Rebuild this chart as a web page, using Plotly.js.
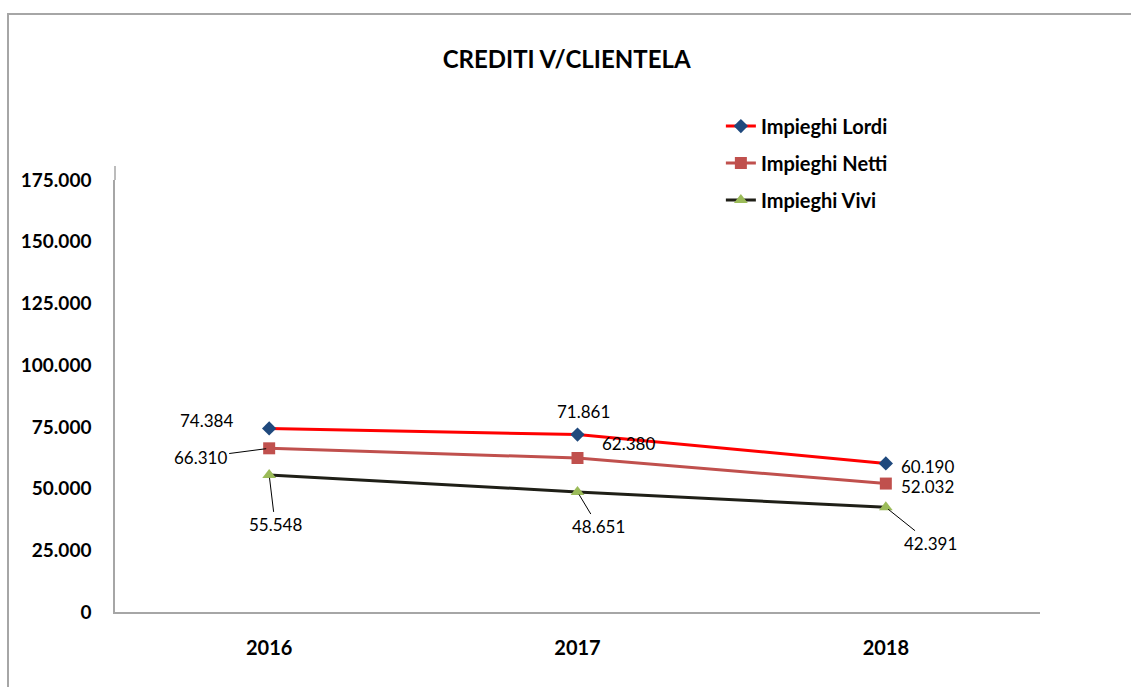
<!DOCTYPE html>
<html>
<head>
<meta charset="utf-8">
<script src="https://cdn.plot.ly/plotly-3.0.1.min.js"></script>
<style>
  html, body { margin: 0; padding: 0; background: #fff; }
  #chart { width: 1131px; height: 687px; }
</style>
</head>
<body>
<div id="chart"></div>
<script>
/* ==========================================
   DATA
========================================== */

const years = ["2016", "2017", "2018"];

const impieghiLordi = [74384, 71861, 60190];
const impieghiNetti = [66310, 62380, 52032];
const impieghiVivi = [55548, 48651, 42391];

const yTicks = [0, 25000, 50000, 75000, 100000, 125000, 150000, 175000];


/* ==========================================
   HELPERS
========================================== */

function fmt(v){

    return String(v).replace(/\B(?=(\d{3})+(?!\d))/g, ".");

}

const FONT = "Lato, 'Liberation Sans', sans-serif";

// i = category index, offsets in pixels
function plainLabel(i, y, xs, ys){

    return {
        x: i, y: y, xref: "x", yref: "y",
        text: fmt(y), showarrow: false,
        xshift: xs, yshift: ys,
        font: { family: FONT, size: 17, color: "#000" }
    };

}

function leaderLabel(i, y, ax, ay){

    return {
        x: i, y: y, xref: "x", yref: "y",
        text: fmt(y), showarrow: true,
        arrowhead: 0, arrowwidth: 1, arrowcolor: "#000",
        ax: ax, ay: ay, standoff: 3, startstandoff: 1,
        font: { family: FONT, size: 17, color: "#000" }
    };

}


/* ==========================================
   TRACES
========================================== */

const traces = [

    {
        x: years, y: impieghiLordi, name: "Impieghi Lordi",
        mode: "lines+markers", legendgroup: "a",
        line: { color: "#ff0000", width: 3 },
        marker: { symbol: "diamond", size: 11, color: "#1f497d" }
    },

    {
        x: years, y: impieghiNetti, name: "Impieghi Netti",
        mode: "lines+markers", legendgroup: "b",
        line: { color: "#c0504d", width: 3 },
        marker: { symbol: "square", size: 12, color: "#c0504d" }
    },

    {
        x: years, y: impieghiVivi, name: "Impieghi Vivi",
        mode: "lines+markers", legendgroup: "c",
        line: { color: "#1f1f17", width: 3 },
        marker: { symbol: "triangle-up", size: 12, color: "#9bbb59" }
    }

];


/* ==========================================
   ANNOTATIONS
========================================== */

const annotations = [

    plainLabel(0, impieghiLordi[0], -63, 8),
    plainLabel(1, impieghiLordi[1], 6, 23),
    plainLabel(2, impieghiLordi[2], 42, -3),

    leaderLabel(0, impieghiNetti[0], -69, 9),
    plainLabel(1, impieghiNetti[1], 51, 15),
    plainLabel(2, impieghiNetti[2], 42, -3),

    leaderLabel(0, impieghiVivi[0], 6, 50),
    leaderLabel(1, impieghiVivi[1], 21, 35),
    leaderLabel(2, impieghiVivi[2], 45, 36)

];


/* ==========================================
   LAYOUT
========================================== */

const layout = {

    width: 1131,
    height: 687,
    paper_bgcolor: "#ffffff",
    plot_bgcolor: "#ffffff",
    separators: ",.",
    margin: { l: 115, r: 91, t: 180, b: 75 },
    font: { family: FONT, color: "#000" },

    title: {
        text: "<b>CREDITI V/CLIENTELA</b>",
        x: 0.501, xanchor: "center",
        y: 1 - 60 / 687, yanchor: "middle",
        font: { family: FONT, size: 24, color: "#000" }
    },

    xaxis: {
        type: "category",
        range: [-0.5, 2.5],
        showgrid: false,
        zeroline: false,
        showline: true,
        linecolor: "#a6a6a6",
        linewidth: 1.5,
        ticks: "",
        ticklabelstandoff: 17,
        tickfont: { family: FONT, size: 20, weight: "bold", color: "#000" }
    },

    yaxis: {
        range: [0, 175000],
        tickvals: yTicks,
        ticktext: yTicks.map(fmt),
        showgrid: false,
        zeroline: false,
        showline: true,
        linecolor: "#a6a6a6",
        linewidth: 1.5,
        ticks: "",
        ticklabelstandoff: 18,
        tickfont: { family: FONT, size: 19, weight: "bold", color: "#000" }
    },

    showlegend: true,
    legend: {
        x: 0.655, xanchor: "left",
        y: 1.17, yanchor: "top",
        traceorder: "grouped",
        tracegroupgap: 8,
        itemwidth: 30,
        bgcolor: "rgba(0,0,0,0)",
        font: { family: FONT, size: 20, weight: "bold", color: "#000" }
    },

    annotations: annotations,

    shapes: [
        {
            type: "rect", xref: "paper", yref: "paper",
            x0: -107 / 925, x1: 1.2,
            y0: -0.3, y1: (612 - 14) / 432,
            line: { color: "#a6a6a6", width: 2 },
            layer: "below"
        },
        {
            type: "line", xref: "paper", yref: "paper",
            x0: 0, x1: 0, y0: 1, y1: (612 - 166) / 432,
            line: { color: "#a6a6a6", width: 1.5 }
        }
    ]

};


Plotly.newPlot("chart", traces, layout, { displayModeBar: false, responsive: false });
</script>
</body>
</html>
